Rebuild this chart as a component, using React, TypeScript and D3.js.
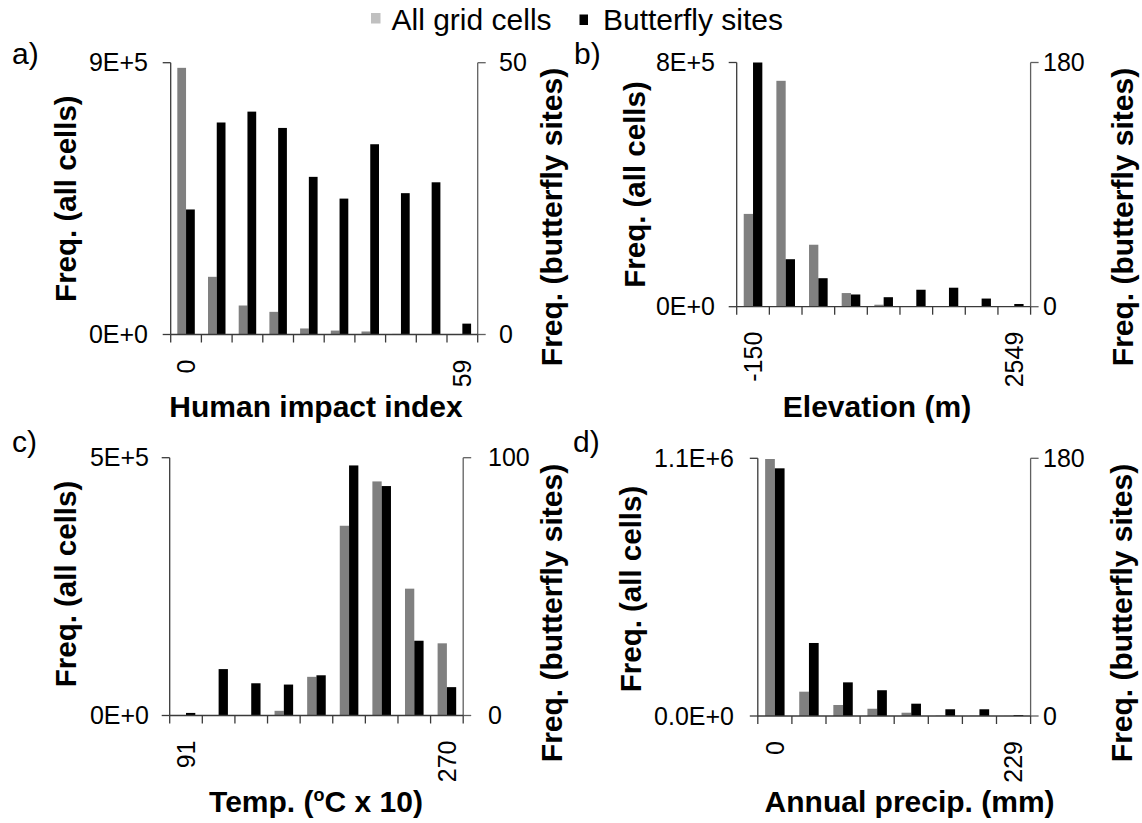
import React from "react";
import * as d3 from "d3";

// ---------- DATA ----------
const legendLabels = ["All grid cells", "Butterfly sites"];

const humanCells = [883000, 191000, 96000, 75000, 20000, 13000, 10000, 2000, 1500, 500];
const humanSites = [23, 39, 41, 38, 29, 25, 35, 26, 28, 2];
const humanLabels = ["0", "", "", "", "", "", "", "", "", "59"];
const humanCellTicks = ["0E+0", "9E+5"];
const humanSiteTicks = ["0", "50"];

const elevCells = [304000, 740000, 203000, 44700, 6500, 1500, 1000, 600, 300];
const elevSites = [180, 35, 21, 9, 7, 12.5, 14, 6, 2];
const elevLabels = ["-150", "", "", "", "", "", "", "", "2549"];
const elevCellTicks = ["0E+0", "8E+5"];
const elevSiteTicks = ["0", "180"];

const tempCells = [1000, 500, 800, 9100, 75000, 368000, 454000, 246000, 140000];
const tempSites = [1, 18, 12.5, 12, 15.6, 97, 89, 29, 11];
const tempLabels = ["91", "", "", "", "", "", "", "", "270"];
const tempCellTicks = ["0E+0", "5E+5"];
const tempSiteTicks = ["0", "100"];

const precipCells = [1097000, 103800, 47000, 31000, 14000, 1500, 1000, 500];
const precipSites = [173, 51, 23.5, 18, 8.6, 4.7, 4.7, 0.7];
const precipLabels = ["0", "", "", "", "", "", "", "229"];
const precipCellTicks = ["0.0E+0", "1.1E+6"];
const precipSiteTicks = ["0", "180"];

const cellMaxes = [9e5, 8e5, 5e5, 1.1e6];
const siteMaxes = [50, 180, 100, 180];
const panelLetters = ["a)", "b)", "c)", "d)"];
const xTitles = ["Human impact index", "Elevation (m)", "TEMP", "Annual precip. (mm)"];
const leftTitle = "Freq. (all cells)";
const rightTitle = "Freq. (butterfly sites)";

// ---------- LAYOUT ----------
const W = 1142;
const H = 823;
const FONT = "'Liberation Sans', Arial, Helvetica, sans-serif";
const GRAY = "#808080";
const LEGEND_GRAY = "#c0c0c0";

const layouts = [
  { left: 170.7, right: 477.7, top: 62.7, bottom: 334.5, lx: 12, ly: 64, ltx: 65.5, lty: 198.6, rtx: 551.7, rty: 217, yLabEnd: 148, rLabStart: 499, xtx: 316, xty: 417 },
  { left: 736.7, right: 1030.6, top: 62.5, bottom: 306.7, lx: 574, ly: 64, ltx: 635, lty: 184.5, rtx: 1122.7, rty: 217, yLabEnd: 715, rLabStart: 1043, xtx: 877, xty: 417 },
  { left: 169.7, right: 463.2, top: 457.7, bottom: 715.5, lx: 12, ly: 452, ltx: 65.5, lty: 584, rtx: 551.7, rty: 613, yLabEnd: 149, rLabStart: 488, xtx: 316, xty: 812 },
  { left: 757.8, right: 1030.6, top: 458.3, bottom: 716, lx: 573, ly: 452, ltx: 631, lty: 589, rtx: 1121, rty: 613, yLabEnd: 734, rLabStart: 1043, xtx: 909.6, xty: 812 },
];

const panelData = [
  { cells: humanCells, sites: humanSites, labels: humanLabels, cTicks: humanCellTicks, sTicks: humanSiteTicks },
  { cells: elevCells, sites: elevSites, labels: elevLabels, cTicks: elevCellTicks, sTicks: elevSiteTicks },
  { cells: tempCells, sites: tempSites, labels: tempLabels, cTicks: tempCellTicks, sTicks: tempSiteTicks },
  { cells: precipCells, sites: precipSites, labels: precipLabels, cTicks: precipCellTicks, sTicks: precipSiteTicks },
];

function Panel({ idx }: { idx: number }) {
  const L = layouts[idx];
  const D = panelData[idx];
  const n = D.cells.length;
  const cats = d3.range(n).map(String);
  const x = d3.scaleBand<string>().domain(cats).range([L.left, L.right]).paddingInner(0.43).paddingOuter(0.215);
  const sub = d3.scaleBand<string>().domain(["c", "s"]).range([0, x.bandwidth()]);
  const yC = d3.scaleLinear().domain([0, cellMaxes[idx]]).range([L.bottom, L.top]);
  const yS = d3.scaleLinear().domain([0, siteMaxes[idx]]).range([L.bottom, L.top]);
  const step = (L.right - L.left) / n;
  const boundaries = d3.range(n + 1).map((i) => L.left + i * step);
  const axisDark = "#3a3a3a";
  const axisGray = "#606060";
  const tickLen = 8;
  return (
    <g>
      <text x={L.lx} y={L.ly} fontSize={30} fontFamily={FONT}>{panelLetters[idx]}</text>
      {/* bars */}
      {D.cells.map((v, i) => (
        <rect key={"c" + i} x={(x(String(i)) as number) + (sub("c") as number)} y={yC(v)} width={sub.bandwidth()} height={L.bottom - yC(v)} fill={GRAY} />
      ))}
      {D.sites.map((v, i) => (
        <rect key={"s" + i} x={(x(String(i)) as number) + (sub("s") as number)} y={yS(v)} width={sub.bandwidth()} height={L.bottom - yS(v)} fill="#000" />
      ))}
      {/* left axis */}
      <line x1={L.left} x2={L.left} y1={yC(cellMaxes[idx])} y2={L.bottom} stroke={axisDark} strokeWidth={1.3} />
      {[0, cellMaxes[idx]].map((v, i) => (
        <g key={"lt" + i}>
          <line x1={L.left - tickLen} x2={L.left} y1={yC(v)} y2={yC(v)} stroke={axisDark} strokeWidth={1.3} />
          <text x={L.yLabEnd} y={yC(v)} dy="0.35em" textAnchor="end" fontSize={25} fontFamily={FONT}>{D.cTicks[i]}</text>
        </g>
      ))}
      {/* right axis */}
      <line x1={L.right} x2={L.right} y1={yS(siteMaxes[idx])} y2={L.bottom} stroke={axisGray} strokeWidth={1.3} />
      {[0, siteMaxes[idx]].map((v, i) => (
        <g key={"rt" + i}>
          <line x1={L.right} x2={L.right + tickLen} y1={yS(v)} y2={yS(v)} stroke={axisGray} strokeWidth={1.3} />
          <text x={L.rLabStart} y={yS(v)} dy="0.35em" textAnchor="start" fontSize={25} fontFamily={FONT}>{D.sTicks[i]}</text>
        </g>
      ))}
      {/* bottom axis */}
      <line x1={L.left} x2={L.right} y1={L.bottom} y2={L.bottom} stroke={axisDark} strokeWidth={1.3} />
      {boundaries.map((bx, i) => (
        <line key={"bt" + i} x1={bx} x2={bx} y1={L.bottom} y2={L.bottom + tickLen} stroke={axisDark} strokeWidth={1.3} />
      ))}
      {D.labels.map((lab, i) =>
        lab ? (
          <text key={"xl" + i} transform={`translate(${(x(String(i)) as number) + x.bandwidth() / 2},${L.bottom + 25}) rotate(-90)`} dy="0.35em" textAnchor="end" fontSize={25} fontFamily={FONT}>{lab}</text>
        ) : null
      )}
      {/* axis titles */}
      <text transform={`translate(${L.ltx},${L.lty}) rotate(-90)`} dy="0.35em" textAnchor="middle" fontSize={29.5} fontWeight="bold" fontFamily={FONT}>{leftTitle}</text>
      <text transform={`translate(${L.rtx},${L.rty}) rotate(-90)`} dy="0.35em" textAnchor="middle" fontSize={30} fontWeight="bold" fontFamily={FONT}>{rightTitle}</text>
      {xTitles[idx] === "TEMP" ? (
        <text x={L.xtx} y={L.xty} textAnchor="middle" fontSize={30} fontWeight="bold" fontFamily={FONT}>
          Temp. (<tspan fontSize={18} dy={-11}>o</tspan><tspan dy={11}>C x 10)</tspan>
        </text>
      ) : (
        <text x={L.xtx} y={L.xty} textAnchor="middle" fontSize={30} fontWeight="bold" fontFamily={FONT}>{xTitles[idx]}</text>
      )}
    </g>
  );
}

export default function App() {
  return (
    <svg width={W} height={H} style={{ position: "absolute", left: 0, top: 0, background: "#fff" }}>
      <rect x={0} y={0} width={W} height={H} fill="#fff" />
      {/* legend */}
      <rect x={371} y={13} width={9.5} height={10.5} fill={LEGEND_GRAY} />
      <text x={391.5} y={30} fontSize={30} fontFamily={FONT}>{legendLabels[0]}</text>
      <rect x={579.5} y={14.5} width={8.5} height={10.5} fill="#000" />
      <text x={603} y={30} fontSize={30} fontFamily={FONT}>{legendLabels[1]}</text>
      {[0, 1, 2, 3].map((i) => (
        <Panel key={i} idx={i} />
      ))}
    </svg>
  );
}
